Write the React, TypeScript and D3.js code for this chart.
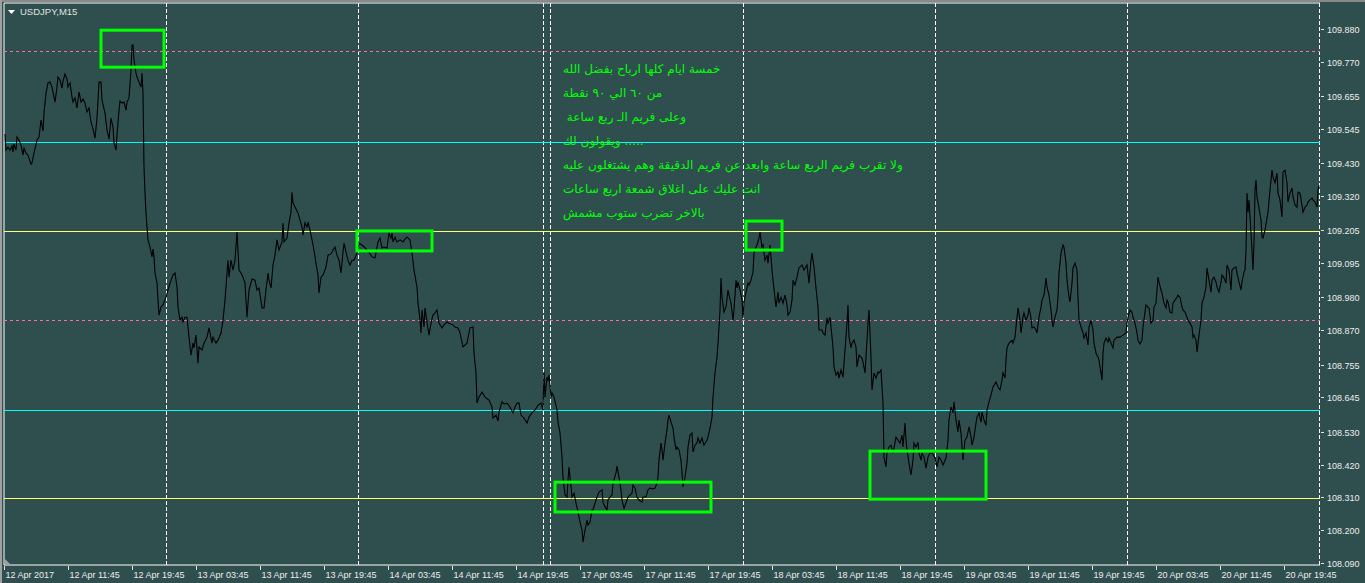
import React from 'react';
import * as d3 from 'd3';

const W = 1365;
const H = 583;

const symbol = 'USDJPY,M15';
const priceTicks = ['109.880','109.770','109.655','109.545','109.430','109.320','109.205','109.095','108.980','108.870','108.755','108.645','108.530','108.420','108.310','108.200','108.090'];
const timeLabels = ['12 Apr 2017','12 Apr 11:45','12 Apr 19:45','13 Apr 03:45','13 Apr 11:45','13 Apr 19:45','14 Apr 03:45','14 Apr 11:45','14 Apr 19:45','17 Apr 03:45','17 Apr 11:45','17 Apr 19:45','18 Apr 03:45','18 Apr 11:45','18 Apr 19:45','19 Apr 03:45','19 Apr 11:45','19 Apr 19:45','20 Apr 03:45','20 Apr 11:45','20 Apr 19:45'];
const barsPerLabel = 32;
const totalBars = 658;
const daySeparators = [81, 177, 269.5, 273, 369.5, 465.5, 561.5, 657.5];
const pinkLevels = [109.806, 108.904];
const cyanLevels = [109.501, 108.602];
const yellowLevels = [109.203, 108.308];
// [startBar, endBar, highPrice, lowPrice]
const boxes = [
  [48.5, 80, 109.876, 109.752],
  [176.5, 214, 109.203, 109.136],
  [371, 389, 109.236, 109.139],
  [275.5, 353.5, 108.361, 108.261],
  [433, 491, 108.465, 108.304],
];
const notes = [
  'خمسة ايام كلها ارباح بفضل الله',
  'من ٦٠ الي ٩٠ نقطة',
  ' وعلى فريم الـ ربع ساعة',
  'ويقولون لك .....',
  'ولا تقرب فريم الربع ساعة وابعد عن فريم الدقيقة وهم يشتغلون عليه',
  'انت عليك على اغلاق شمعة اربع ساعات',
  'بالاخر تضرب ستوب مشمش',
];
const notesAnchor = { bar: 279.5, price: 109.732 };

const apr12 = [[0.5,109.528],[1,109.474],[2,109.484],[3,109.474],[4,109.488],[4.5,109.468],[5,109.494],[6,109.474],[6.5,109.518],[7.5,109.508],[8.5,109.491],[9.5,109.457],[10,109.481],[11,109.464],[12,109.457],[13.5,109.427],[14,109.431],[15,109.464],[16.5,109.508],[17.5,109.518],[18.5,109.575],[19.5,109.538],[20,109.598],[21,109.665],[22,109.699],[23,109.702],[24,109.685],[25.5,109.635],[26.5,109.685],[27,109.719],[28,109.709],[29,109.682],[29.5,109.705],[30.5,109.729],[31.5,109.712],[32,109.685],[33,109.699],[34,109.652],[34.5,109.635],[35.5,109.649],[36.5,109.615],[37.5,109.669],[38.5,109.635],[39.5,109.645],[40.5,109.632],[41.5,109.602],[42.5,109.615],[43.5,109.568],[44.5,109.545],[45.5,109.514],[46.5,109.581],[47.5,109.702],[48.5,109.702],[49,109.642],[50.5,109.598],[51.5,109.541],[52.5,109.511],[53.5,109.581],[54.5,109.551],[55,109.498],[56,109.474],[56.5,109.525],[57.5,109.608],[58,109.638],[59,109.632],[60,109.635],[61,109.608],[61.5,109.635],[62.5,109.649],[63.5,109.742],[64,109.826],[64.5,109.826],[65,109.776],[66,109.732],[66.5,109.719],[67.5,109.702],[68.5,109.685],[69,109.732],[69.5,109.665],[70,109.417],[70.5,109.330],[71,109.263],[71.5,109.216],[72,109.173],[73,109.149],[74,109.116],[74.5,109.142],[75,109.116],[75.5,109.062],[76.5,109.028],[77,108.971],[77.5,108.921],[78.5,108.948],[79.5,108.955]];
const apr13 = [[81,108.981],[82,109.005],[83,109.028],[84.5,109.055],[85.5,109.062],[86.5,109.015],[87,108.948],[88,108.904],[89,108.914],[89.5,108.898],[90.5,108.914],[91.5,108.914],[92.5,108.847],[93.5,108.787],[94.5,108.827],[95,108.811],[96,108.854],[97,108.760],[97.5,108.814],[99,108.804],[100,108.827],[101.5,108.847],[102.5,108.878],[104,108.827],[104.5,108.847],[106,108.827],[107,108.837],[108.5,108.861],[109.5,108.904],[110.5,108.971],[111.5,109.062],[112,109.105],[112.5,109.048],[113.5,109.105],[114.5,109.072],[115.5,109.105],[116.5,109.199],[117.5,109.072],[118.5,109.062],[119.5,109.048],[120.5,109.028],[121.5,108.914],[122.5,109.005],[124,109.042],[125.5,109.038],[126.5,109.005],[127.5,109.012],[129,108.945],[130,108.945],[131,109.005],[132,109.062],[132.5,109.038],[133.5,109.012],[134.5,109.089],[135.5,109.122],[136.5,109.173],[137.5,109.139],[139,109.166],[139.5,109.230],[140,109.166],[141.5,109.179],[142.5,109.230],[143.5,109.266],[144,109.333],[144.5,109.297],[145.5,109.283],[147,109.263],[148,109.240],[149,109.216],[149.5,109.189],[150.5,109.230],[151.5,109.216],[152,109.233],[153,109.206],[154,109.173],[155,109.139],[156,109.095],[157,109.055],[157.5,108.995],[158.5,109.048],[159.5,109.055],[161,109.082],[162,109.122],[163.5,109.126],[164.5,109.139],[165.5,109.149],[166.5,109.122],[167.5,109.105],[168.5,109.062],[169.5,109.132],[170,109.162],[171,109.132],[172,109.105],[173,109.089],[174,109.105],[175,109.105],[176.5,109.129]];
const apr14 = [[177.5,109.162],[179,109.156],[180.5,109.146],[182,109.136],[184,109.116],[185.5,109.112],[187,109.166],[188,109.179],[189,109.146],[190,109.149],[191.5,109.146],[192.5,109.196],[193.5,109.179],[194,109.196],[194.5,109.166],[195.5,109.183],[196.5,109.166],[198,109.173],[199.5,109.166],[200.5,109.176],[201.5,109.183],[203,109.173],[204,109.129],[205,109.072],[206.5,109.015],[207,108.961],[208,108.904],[208.5,108.861],[209,108.938],[210,108.881],[210.5,108.945],[211.5,108.898],[212.5,108.854],[213.5,108.894],[214.5,108.921],[215.5,108.928],[216.5,108.938],[217.5,108.894],[219,108.878],[220,108.888],[221.5,108.898],[222.5,108.894],[224.5,108.888],[225.5,108.881],[227,108.878],[228,108.861],[229.5,108.814],[231.5,108.827],[233,108.878],[234.5,108.881],[235,108.794],[236,108.727],[236.5,108.626],[237.5,108.646],[239,108.663],[240.5,108.646],[242.5,108.636],[244,108.613],[244.5,108.576],[246,108.586],[247,108.566],[247.5,108.596],[249,108.630],[250,108.623],[251.5,108.626],[253,108.613],[254.5,108.593],[255.5,108.613],[256.5,108.626],[257.5,108.626],[258.5,108.586],[260,108.576],[261.5,108.559],[262.5,108.579],[264,108.593],[265.5,108.603],[267,108.619],[268.5,108.626],[269.5,108.603]];
const apr17 = [[270,108.730],[270.5,108.646],[271.5,108.713],[272,108.703],[272.5,108.720],[273.5,108.646],[274,108.660],[275,108.646],[276.5,108.603],[277,108.562],[278,108.526],[279,108.445],[279.5,108.378],[280.5,108.318],[281.5,108.311],[282,108.368],[282.5,108.412],[283.5,108.345],[284,108.311],[285,108.324],[286,108.291],[287,108.261],[288,108.227],[289,108.200],[289.5,108.160],[290.5,108.200],[291.5,108.234],[292,108.217],[293,108.227],[294,108.268],[294.5,108.268],[295.5,108.291],[296.5,108.311],[297.5,108.328],[299,108.335],[299.5,108.294],[300.5,108.278],[301.5,108.268],[302,108.301],[303,108.311],[304,108.318],[304.5,108.358],[306,108.392],[306.5,108.415],[307.5,108.378],[308.5,108.335],[309,108.301],[310,108.274],[311,108.291],[312,108.311],[313,108.318],[314,108.324],[314.5,108.351],[315.5,108.341],[316.5,108.311],[317.5,108.301],[319,108.294],[319.5,108.311],[321,108.311],[322,108.335],[323,108.341],[324.5,108.338],[325.5,108.341],[326.5,108.358],[327,108.378],[327.5,108.435],[328.5,108.492],[329,108.469],[329.5,108.435],[330.5,108.492],[331.5,108.536],[332,108.569],[332.5,108.586],[333.5,108.562],[334.5,108.542],[335,108.512],[336,108.469],[336.5,108.479],[337.5,108.469],[338.5,108.435],[339,108.392],[339.5,108.345],[340.5,108.378],[341.5,108.425],[342,108.479],[343,108.519],[344,108.526],[344.5,108.462],[345.5,108.485],[346.5,108.492],[347,108.509],[348,108.492],[349,108.509],[350,108.485],[351.5,108.502],[352,108.512],[353,108.542],[354,108.579],[354.5,108.646],[355.5,108.727],[356.5,108.780],[357,108.827],[357.5,108.881],[358,108.938],[358.5,109.045],[359,108.981],[360,108.931],[361,108.948],[362,109.005],[362.5,108.988],[363.5,108.961],[364.5,108.904],[365,108.938],[366,109.038],[366.5,109.012],[367,109.032],[368,109.005],[369,108.971]];
const apr18 = [[369.5,108.911],[370,108.965],[371,108.998],[372,109.028],[372.5,109.022],[373.5,109.038],[374.5,109.065],[375,109.129],[376,109.149],[376.5,109.156],[377.5,109.179],[378,109.199],[379,109.149],[379.5,109.156],[380.5,109.105],[381.5,109.122],[382,109.095],[383,109.156],[384,109.072],[384.5,109.038],[385.5,108.978],[386,108.948],[387,108.998],[387.5,108.961],[388.5,108.981],[389.5,108.961],[390.5,108.988],[391.5,108.955],[392,108.921],[393,108.931],[394,108.971],[394.5,109.038],[395.5,109.022],[396.5,109.048],[397.5,109.079],[399,109.089],[400,109.072],[401.5,109.089],[402.5,109.028],[403.5,109.105],[404,109.129],[405,109.082],[406,109.012],[407,108.948],[407.5,108.871],[409,108.871],[409.5,108.861],[410.5,108.854],[411.5,108.911],[412,108.894],[413,108.914],[413.5,108.881],[414.5,108.814],[415,108.747],[416,108.720],[417,108.730],[417.5,108.710],[418.5,108.737],[419.5,108.713],[420.5,108.804],[421.5,108.894],[422,108.955],[422.5,108.847],[423.5,108.811],[424,108.827],[425,108.837],[426,108.814],[426.5,108.747],[427.5,108.787],[429,108.777],[429.5,108.763],[430.5,108.727],[431.5,108.837],[432,108.894],[432.5,108.938],[433.5,108.780],[434,108.670],[435,108.727],[436,108.710],[437,108.730],[437.5,108.727],[438.5,108.737],[439.5,108.626],[440,108.445],[441,108.412],[441.5,108.459],[442.5,108.479],[443.5,108.485],[444.5,108.459],[446,108.512],[447,108.502],[448,108.492],[449,108.519],[449.5,108.479],[450.5,108.559],[451,108.502],[451.5,108.469],[452.5,108.425],[453.5,108.385],[454.5,108.435],[455,108.492],[456,108.479],[457,108.495],[457.5,108.459],[458.5,108.435],[459,108.459],[460,108.445],[461,108.408],[462,108.445],[463,108.459],[464,108.459],[465.5,108.442]];
const apr19 = [[466.5,108.412],[467.5,108.445],[468.5,108.435],[469.5,108.418],[471,108.442],[472,108.502],[472.5,108.569],[473.5,108.613],[474.5,108.593],[475,108.630],[476,108.569],[477,108.529],[477.5,108.569],[478.5,108.526],[479,108.479],[479.5,108.435],[480.5,108.502],[481.5,108.512],[482.5,108.546],[483.5,108.512],[484,108.485],[485,108.512],[486,108.559],[486.5,108.579],[487.5,108.593],[488.5,108.562],[489,108.596],[490,108.569],[491,108.552],[491.5,108.603],[492.5,108.630],[493.5,108.653],[494.5,108.680],[496,108.697],[497,108.680],[498,108.670],[499,108.703],[499.5,108.727],[500.5,108.710],[501,108.770],[501.5,108.811],[502.5,108.827],[504,108.837],[504.5,108.827],[505.5,108.847],[506.5,108.914],[507,108.945],[508,108.904],[508.5,108.861],[509.5,108.914],[510,108.928],[511,108.904],[512,108.921],[512.5,108.945],[513.5,108.911],[514,108.878],[515,108.881],[516,108.871],[516.5,108.861],[517.5,108.914],[518.5,108.948],[519,108.971],[520,108.988],[521,109.045],[521.5,109.015],[522.5,108.988],[523.5,108.938],[524,108.904],[524.5,108.881],[525.5,108.914],[526.5,108.938],[527,108.981],[527.5,109.062],[528.5,109.129],[529.5,109.156],[530,109.149],[531,109.095],[531.5,109.038],[532.5,108.981],[533,108.965],[534,109.028],[534.5,109.079],[535.5,109.095],[536.5,109.072],[537,108.981],[537.5,108.904],[538.5,108.881],[539.5,108.861],[540,108.844],[541,108.861],[542,108.821],[542.5,108.881],[543.5,108.904],[544.5,108.871],[545,108.827],[546,108.794],[547,108.780],[547.5,108.770],[548.5,108.727],[549,108.703],[549.5,108.794],[550,108.827],[551,108.844],[552,108.831],[552.5,108.844],[553.5,108.827],[554.5,108.811],[555,108.837],[556.5,108.847],[558,108.847],[559.5,108.854],[561,108.861]];
const apr20 = [[561.5,108.894],[562,108.914],[563,108.938],[564,108.931],[564.5,108.914],[565.5,108.894],[566.5,108.861],[567,108.837],[568,108.824],[569,108.837],[569.5,108.881],[570.5,108.931],[571,108.955],[572,108.948],[572.5,108.945],[573.5,108.894],[574.5,108.904],[575,108.948],[576,108.961],[577,109.048],[577.5,109.032],[578.5,109.005],[579,108.995],[580,108.961],[581,108.945],[581.5,108.971],[582,108.965],[583,108.931],[584,108.928],[584.5,108.961],[585.5,108.971],[586.5,108.981],[587,108.988],[588,108.981],[589,108.948],[589.5,108.938],[590.5,108.931],[591.5,108.914],[592,108.904],[593,108.894],[594,108.881],[594.5,108.847],[595,108.854],[596,108.837],[596.5,108.797],[597.5,108.854],[598.5,108.904],[599,108.961],[600,108.981],[601,109.015],[601.5,109.079],[602.5,109.038],[603.5,108.998],[604,109.038],[605,109.048],[606,109.032],[606.5,109.015],[607.5,108.998],[608.5,109.032],[609,109.055],[610,109.045],[611,109.028],[611.5,109.089],[612.5,109.072],[613.5,109.005],[614,109.072],[615,109.079],[616,109.082],[616.5,109.062],[617.5,109.032],[618.5,109.005],[619,109.032],[620,109.065],[620.5,109.072],[621,109.139],[621.5,109.330],[622,109.266],[622.5,109.307],[623.5,109.196],[624,109.139],[624.5,109.072],[625,109.162],[625.5,109.340],[626,109.374],[626.5,109.317],[627.5,109.280],[628.5,109.240],[629,109.183],[629.5,109.179],[630.5,109.206],[631.5,109.246],[632,109.266],[633,109.340],[634,109.407],[634.5,109.384],[635.5,109.364],[636.5,109.397],[637,109.330],[638,109.307],[639,109.250],[639.5,109.400],[640.5,109.407],[641.5,109.364],[642,109.300],[643,109.330],[644,109.347],[644.5,109.317],[645.5,109.290],[646.5,109.283],[647,109.333],[648,109.330],[649,109.290],[649.5,109.266],[650.5,109.283],[651.5,109.290],[652,109.300],[653,109.307],[654,109.313],[654.5,109.307],[655.5,109.300],[656.5,109.283],[657,109.340],[657.5,109.357]];

const closes = [...apr12, ...apr13, ...apr14, ...apr17, ...apr18, ...apr19, ...apr20];

export default function App() {
  const left = 4, right = 1320, top = 3, bottom = 565;
  const x = d3.scaleLinear().domain([0, totalBars]).range([left, right]);
  const y = d3.scaleLinear().domain([108.09, 109.88]).range([563, 29]);
  const line = d3.line<number[]>().x(d => x(d[0])).y(d => y(d[1]));
  const axisFont = { fontFamily: '"Liberation Sans", Arial, sans-serif', fontSize: 9 };
  const noteY0 = y(notesAnchor.price);

  return (
    <svg width={W} height={H} style={{ position: 'fixed', left: 0, top: 0, display: 'block' }}>
      <rect x={0} y={0} width={W} height={H} fill="#2f4f4f" />
      <rect x={0} y={0} width={W} height={2} fill="#8a8a8a" />
      <rect x={0} y={0} width={2} height={H} fill="#a0a0a0" />

      {/* plot frame */}
      <line x1={left} y1={top} x2={right} y2={top} stroke="#fff" strokeWidth={1} />
      <line x1={left} y1={top} x2={left} y2={bottom} stroke="#fff" strokeWidth={1} />
      <line x1={left} y1={bottom} x2={right} y2={bottom} stroke="#fff" strokeWidth={1} />

      {/* day separators */}
      {daySeparators.map((b, i) => (
        <line key={'sep' + i} x1={Math.round(x(b)) + 0.5} x2={Math.round(x(b)) + 0.5} y1={top} y2={bottom}
          stroke="#fff" strokeWidth={1} strokeDasharray="4,2" shapeRendering="crispEdges" />
      ))}

      {/* horizontal levels */}
      {pinkLevels.map((p, i) => (
        <line key={'pk' + i} x1={left} x2={right} y1={Math.round(y(p)) + 0.5} y2={Math.round(y(p)) + 0.5}
          stroke="#ff69b4" strokeWidth={1} strokeDasharray="3,3" shapeRendering="crispEdges" />
      ))}
      {cyanLevels.map((p, i) => (
        <line key={'cy' + i} x1={left} x2={right} y1={Math.round(y(p)) + 0.5} y2={Math.round(y(p)) + 0.5}
          stroke="#00ffff" strokeWidth={1} shapeRendering="crispEdges" />
      ))}
      {yellowLevels.map((p, i) => (
        <line key={'yl' + i} x1={left} x2={right} y1={Math.round(y(p)) + 0.5} y2={Math.round(y(p)) + 0.5}
          stroke="#ffff70" strokeWidth={1} shapeRendering="crispEdges" />
      ))}

      {/* price line */}
      <path d={line(closes as number[][]) || ''} fill="none" stroke="#000" strokeWidth={1.1} />

      {/* boxes */}
      {boxes.map((b, i) => (
        <rect key={'bx' + i} x={x(b[0])} y={y(b[2])} width={x(b[1]) - x(b[0])} height={y(b[3]) - y(b[2])}
          fill="none" stroke="#00ff00" strokeWidth={3} />
      ))}

      {/* notes */}
      {notes.map((t, i) => (
        <text key={'n' + i} x={x(notesAnchor.bar)} y={noteY0 + i * 24} fill="#00ff00"
          style={{ whiteSpace: 'pre', fontFamily: '"DejaVu Sans", sans-serif', fontSize: 12 }}>{t}</text>
      ))}

      {/* title */}
      <polygon points="8,10 15,10 11.5,14" fill="#fff" />
      <text x={20} y={15} fill="#e0e0e0" style={{ fontFamily: '"Liberation Sans", Arial, sans-serif', fontSize: 9.5 }}>{symbol}</text>

      {/* y axis */}
      {priceTicks.map((t, i) => {
        const yy = Math.round(y(+t)) + 0.5;
        return (
          <g key={'pt' + i}>
            <line x1={right + 1} x2={right + 4} y1={yy} y2={yy} stroke="#e0e0e0" strokeWidth={1} shapeRendering="crispEdges" />
            <text x={right + 7} y={yy + 3.5} fill="#ececec" style={axisFont}>{t}</text>
          </g>
        );
      })}

      {/* x axis */}
      {timeLabels.map((t, i) => {
        const xx = Math.round(x(i * barsPerLabel)) + 0.5;
        return (
          <g key={'tl' + i}>
            <line x1={xx} x2={xx} y1={bottom + 1} y2={bottom + 5} stroke="#e0e0e0" strokeWidth={1} shapeRendering="crispEdges" />
            <text x={xx + 1} y={578} fill="#ececec" style={axisFont}>{t}</text>
          </g>
        );
      })}

      <polygon points={`${left + 1},${bottom - 6} ${left + 1},${bottom - 1} ${left + 6},${bottom - 1}`} fill="#a0a0a0" />
    </svg>
  );
}
